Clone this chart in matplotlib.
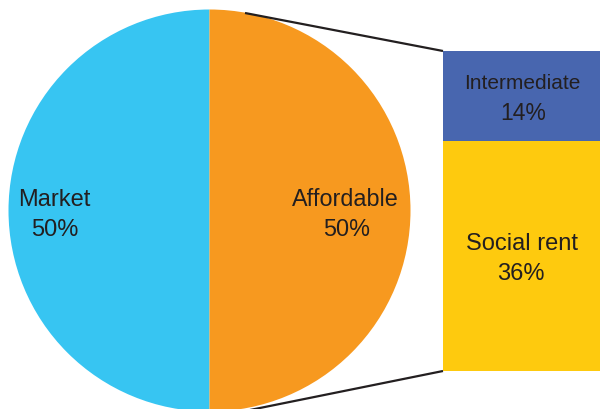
import matplotlib
matplotlib.use("Agg")
import matplotlib.pyplot as plt

# Housing tenure split: pie of market vs affordable, with the affordable share broken down
pie_labels = ["Market", "Affordable"]
pie_values = [50, 50]
pie_colors = ["#37C5F2", "#F7991F"]

sub_labels = ["Intermediate", "Social rent"]
sub_values = [14, 36]
sub_colors = ["#4866AF", "#FECA0E"]

text_color = "#231F20"
plt.rcParams["font.family"] = ["Liberation Sans", "DejaVu Sans"]

fig = plt.figure(figsize=(6.0, 4.1), dpi=100)
ax = fig.add_axes([0, 0, 1, 1])

# Pie (pixel-style coordinates, y grows downward)
cx, cy, r = 209.5, 211.5, 201
ax.pie(pie_values, colors=pie_colors, startangle=90, counterclock=True,
       center=(cx, cy), radius=r, frame=True,
       wedgeprops=dict(linewidth=0))

# Stacked bar for the affordable breakdown
bar_left, bar_right = 443, 602
bar_top, bar_bottom = 52, 372
scale = (bar_bottom - bar_top) / pie_values[1]
bottom = bar_top
for v, c in zip(sub_values, sub_colors):
    ax.bar((bar_left + bar_right) / 2, v * scale, bottom=bottom,
           width=bar_right - bar_left, color=c, linewidth=0)
    bottom += v * scale

# Connector lines from the pie to the bar
ax.plot([245, bar_left], [14, bar_top], color=text_color, lw=1.6,
        solid_capstyle="butt")
ax.plot([245, bar_left], [412, bar_bottom], color=text_color, lw=1.6,
        solid_capstyle="butt")

# Labels
def two_line(x1, y1, x2, y2, name, value, size1, size2):
    ax.text(x1, y1, name, ha="center", va="baseline", fontsize=size1,
            color=text_color)
    ax.text(x2, y2, f"{value}%", ha="center", va="baseline", fontsize=size2,
            color=text_color)

two_line(54, 206, 54.5, 236, pie_labels[0], pie_values[0], 17, 17)
two_line(345.5, 206, 347, 236.5, pie_labels[1], pie_values[1], 16.8, 16.8)
two_line(522, 89, 523, 120, sub_labels[0], sub_values[0], 15, 16.5)
two_line(521.5, 250.5, 520.5, 280, sub_labels[1], sub_values[1], 17, 17)

ax.set_xlim(0, 600)
ax.set_ylim(410, 0)
ax.set_aspect("auto")
ax.axis("off")

fig.savefig("out.png", dpi=100)
